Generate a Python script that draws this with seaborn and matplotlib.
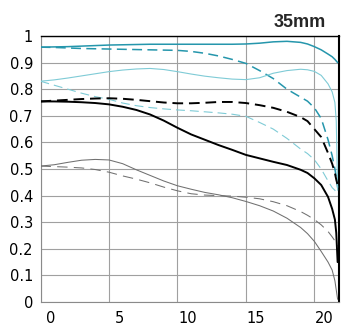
import matplotlib
matplotlib.use("Agg")
import matplotlib.pyplot as plt
import matplotlib.transforms as mtransforms
import seaborn as sns
import pandas as pd

# ---- data ----
x_pos = [0, 1, 2, 3, 4, 5, 6, 7, 8, 9, 10, 11, 12, 13, 14, 15, 16, 17, 18, 19,
         19.5, 20, 20.5, 21, 21.3, 21.5, 21.6, 21.7]

teal_solid = [0.958, 0.959, 0.960, 0.962, 0.964, 0.966, 0.967, 0.968, 0.969, 0.969,
              0.969, 0.969, 0.969, 0.969, 0.969, 0.970, 0.973, 0.978, 0.980, 0.976,
              0.970, 0.960, 0.948, 0.932, 0.922, 0.912, 0.906, 0.900]
teal_dashed = [0.958, 0.957, 0.955, 0.953, 0.952, 0.951, 0.950, 0.949, 0.948, 0.947,
               0.946, 0.942, 0.935, 0.925, 0.912, 0.897, 0.870, 0.840, 0.800, 0.770,
               0.755, 0.730, 0.690, 0.610, 0.550, 0.500, 0.470, 0.430]
cyan_solid = [0.830, 0.835, 0.842, 0.850, 0.858, 0.866, 0.872, 0.876, 0.878, 0.874,
              0.866, 0.857, 0.849, 0.843, 0.838, 0.836, 0.843, 0.860, 0.870, 0.875,
              0.873, 0.867, 0.852, 0.820, 0.790, 0.750, 0.680, 0.420]
cyan_dashed = [0.830, 0.815, 0.800, 0.785, 0.772, 0.762, 0.748, 0.738, 0.731, 0.726,
               0.722, 0.719, 0.715, 0.711, 0.706, 0.698, 0.675, 0.650, 0.615, 0.575,
               0.558, 0.535, 0.500, 0.455, 0.430, 0.420, 0.410, 0.400]
black_solid = [0.754, 0.754, 0.753, 0.751, 0.748, 0.743, 0.734, 0.722, 0.705, 0.682,
               0.655, 0.630, 0.610, 0.590, 0.572, 0.553, 0.540, 0.527, 0.515, 0.497,
               0.485, 0.465, 0.440, 0.395, 0.350, 0.310, 0.260, 0.150]
black_dashed = [0.754, 0.757, 0.760, 0.763, 0.765, 0.766, 0.764, 0.760, 0.755, 0.750,
                0.747, 0.747, 0.749, 0.752, 0.752, 0.748, 0.740, 0.730, 0.715, 0.695,
                0.680, 0.650, 0.620, 0.560, 0.520, 0.485, 0.460, 0.440]
gray_solid = [0.511, 0.516, 0.525, 0.533, 0.536, 0.534, 0.520, 0.497, 0.476, 0.455,
              0.437, 0.424, 0.412, 0.403, 0.392, 0.378, 0.362, 0.342, 0.315, 0.280,
              0.257, 0.228, 0.190, 0.150, 0.120, 0.080, 0.045, 0.010]
gray_dashed = [0.511, 0.509, 0.507, 0.504, 0.498, 0.488, 0.474, 0.462, 0.448, 0.432,
               0.418, 0.407, 0.402, 0.400, 0.398, 0.394, 0.388, 0.377, 0.362, 0.340,
               0.326, 0.310, 0.290, 0.265, 0.245, 0.230, 0.220, 0.210]

y_ticks = [0, 0.1, 0.2, 0.3, 0.4, 0.5, 0.6, 0.7, 0.8, 0.9, 1]
y_labels = ["0", "0.1", "0.2", "0.3", "0.4", "0.5", "0.6", "0.7", "0.8", "0.9", "1"]
x_ticks = [0, 5, 10, 15, 20]
x_labels = ["0", "5", "10", "15", "20"]
title_text = "35mm"

series = {
    "teal_solid": teal_solid, "teal_dashed": teal_dashed,
    "cyan_solid": cyan_solid, "cyan_dashed": cyan_dashed,
    "gray_solid": gray_solid, "gray_dashed": gray_dashed,
    "black_solid": black_solid, "black_dashed": black_dashed,
}
frames = [pd.DataFrame({"x": x_pos, "y": v, "series": k}) for k, v in series.items()]
df = pd.concat(frames, ignore_index=True)

TEAL = "#2596ac"
CYAN = "#7fcbd6"
GRAY = "#707070"
palette = {"teal_solid": TEAL, "teal_dashed": TEAL, "cyan_solid": CYAN, "cyan_dashed": CYAN,
           "gray_solid": GRAY, "gray_dashed": GRAY, "black_solid": "black", "black_dashed": "black"}
dashes = {"teal_solid": "", "teal_dashed": (6.5, 3.5), "cyan_solid": "", "cyan_dashed": (8, 4.5),
          "gray_solid": "", "gray_dashed": (10, 6), "black_solid": "", "black_dashed": (5.5, 3)}
sizes = {"teal_solid": 1.1, "teal_dashed": 1.1, "cyan_solid": 0.8, "cyan_dashed": 0.8,
         "gray_solid": 0.75, "gray_dashed": 0.75, "black_solid": 1.4, "black_dashed": 1.4}

sns.set_style("white")
plt.rcParams["font.family"] = ["DejaVu Sans"]

fig = plt.figure(figsize=(3.59, 3.33), dpi=100)
ax = fig.add_axes([40.5 / 359, 31 / 333, (339 - 40.5) / 359, (302 - 36) / 333])

sns.lineplot(data=df, x="x", y="y", hue="series", style="series", size="series",
             palette=palette, dashes=dashes, sizes=sizes, hue_order=list(series.keys()),
             estimator=None, errorbar=None, legend=False, ax=ax, zorder=3)

ax.set_xlim(0, 21.8)
ax.set_ylim(0, 1)
ax.set_yticks(y_ticks)
ax.set_yticklabels(y_labels)
ax.set_xticks(x_ticks)
ax.set_xticklabels(x_labels)
ax.set_xlabel("")
ax.set_ylabel("")
ax.grid(True, color="#a0a0a0", linewidth=0.8, zorder=0)
ax.set_axisbelow(True)
ax.tick_params(axis="both", length=0, labelsize=10.5, colors="black")
ax.tick_params(axis="y", pad=5.4)
ax.tick_params(axis="x", pad=6.2)

offset = mtransforms.ScaledTranslation(0.10, 0, fig.dpi_scale_trans)
for lab in ax.get_xticklabels():
    lab.set_transform(lab.get_transform() + offset)

for side in ["left", "bottom"]:
    ax.spines[side].set_color("#8a8a8a")
    ax.spines[side].set_linewidth(0.8)
ax.spines["top"].set_color("black")
ax.spines["top"].set_linewidth(1.0)
ax.spines["right"].set_color("black")
ax.spines["right"].set_linewidth(1.5)

fig.text(300 / 359, 1 - 27 / 333, title_text, ha="center", va="baseline",
         fontsize=13, fontweight="bold", family=["Liberation Sans", "DejaVu Sans"])

fig.savefig("out.png", dpi=100)
